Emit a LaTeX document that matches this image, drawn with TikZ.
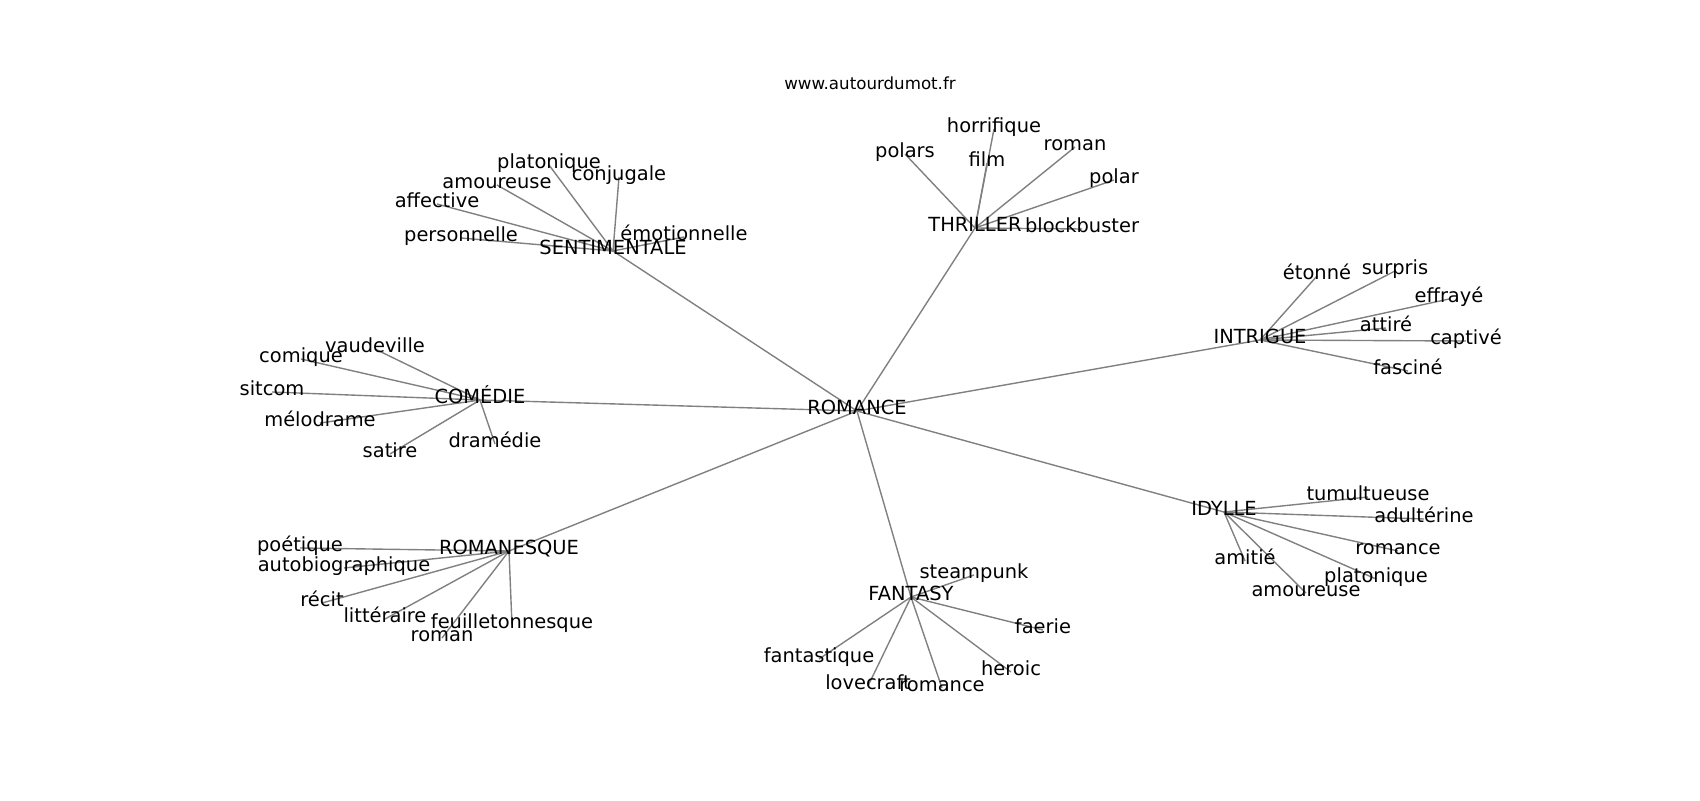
\documentclass[tikz,border=0pt]{standalone}
\usepackage{fontspec}
\setmainfont{DejaVu Sans}
\begin{document}
\begin{tikzpicture}[x=0.72pt,y=-0.72pt,
  lbl/.style={inner sep=0pt,text height=0.76em,text depth=0.24em,font=\fontsize{14pt}{16pt}\selectfont,anchor=center},
  ttl/.style={inner sep=0pt,text height=0.76em,text depth=0.24em,font=\fontsize{12pt}{14pt}\selectfont},
  edge/.style={draw=gray,line width=1pt}]
\path[use as bounding box,fill=white] (0,-4) rectangle (1700,796);
% hubs
\coordinate (R) at (857,407);
\coordinate (S) at (613,247);
\coordinate (Th) at (975,224);
\coordinate (In) at (1260,336);
\coordinate (Co) at (480,396);
\coordinate (Id) at (1224,508);
\coordinate (Rq) at (509,547);
\coordinate (Fa) at (911,593);
% leaves
\coordinate (s1) at (549,161);
\coordinate (s2) at (619,173);
\coordinate (s3) at (497,181);
\coordinate (s4) at (437,200);
\coordinate (s5) at (461,234);
\coordinate (s6) at (684,233);
\coordinate (t1) at (994,125);
\coordinate (t2) at (905,150);
\coordinate (t3) at (987,159);
\coordinate (t4) at (1075,143);
\coordinate (t5) at (1114,176);
\coordinate (t6) at (1082,225);
\coordinate (i1) at (1317,272);
\coordinate (i2) at (1395,267);
\coordinate (i3) at (1449,295);
\coordinate (i4) at (1386,324);
\coordinate (i5) at (1466,337);
\coordinate (i6) at (1408,367);
\coordinate (c1) at (375,345);
\coordinate (c2) at (301,355);
\coordinate (c3) at (272,388);
\coordinate (c4) at (320,419);
\coordinate (c5) at (390,450);
\coordinate (c6) at (495,440);
\coordinate (r1) at (300,544);
\coordinate (r2) at (344,564);
\coordinate (r3) at (322,599);
\coordinate (r4) at (385,615);
\coordinate (r5) at (512,621);
\coordinate (r6) at (442,634);
\coordinate (f1) at (974,571);
\coordinate (f2) at (1043,626);
\coordinate (f3) at (819,655);
\coordinate (f4) at (868,682);
\coordinate (f5) at (942,684);
\coordinate (f6) at (1011,668);
\coordinate (d1) at (1368,493);
\coordinate (d2) at (1424,515);
\coordinate (d3) at (1398,547);
\coordinate (d4) at (1376,575);
\coordinate (d5) at (1306,589);
\coordinate (d6) at (1245,557);
% edges
\foreach \h in {S,Th,In,Co,Id,Rq,Fa} \draw[edge] (R) -- (\h);
\foreach \l in {s1,s2,s3,s4,s5,s6} \draw[edge] (S) -- (\l);
\foreach \l in {t1,t2,t3,t4,t5,t6} \draw[edge] (Th) -- (\l);
\foreach \l in {i1,i2,i3,i4,i5,i6} \draw[edge] (In) -- (\l);
\foreach \l in {c1,c2,c3,c4,c5,c6} \draw[edge] (Co) -- (\l);
\foreach \l in {r1,r2,r3,r4,r5,r6} \draw[edge] (Rq) -- (\l);
\foreach \l in {f1,f2,f3,f4,f5,f6} \draw[edge] (Fa) -- (\l);
\foreach \l in {d1,d2,d3,d4,d5,d6} \draw[edge] (Id) -- (\l);
% labels
\node[ttl] (title) at (870,82) {www.autourdumot.fr};
\node[lbl] (nR) at (R) {ROMANCE};
\node[lbl] (nS) at (S) {SENTIMENTALE};
\node[lbl] (nTh) at (Th) {THRILLER};
\node[lbl] (nIn) at (In) {INTRIGUE};
\node[lbl] (nCo) at (Co) {COMÉDIE};
\node[lbl] (nId) at (Id) {IDYLLE};
\node[lbl] (nRq) at (Rq) {ROMANESQUE};
\node[lbl] (nFa) at (Fa) {FANTASY};
\node[lbl] (ns1) at (s1) {platonique};
\node[lbl] (ns2) at (s2) {conjugale};
\node[lbl] (ns3) at (s3) {amoureuse};
\node[lbl] (ns4) at (s4) {affective};
\node[lbl] (ns5) at (s5) {personnelle};
\node[lbl] (ns6) at (s6) {émotionnelle};
\node[lbl] (nt1) at (t1) {horrifique};
\node[lbl] (nt2) at (t2) {polars};
\node[lbl] (nt3) at (t3) {film};
\node[lbl] (nt4) at (t4) {roman};
\node[lbl] (nt5) at (t5) {polar};
\node[lbl] (nt6) at (t6) {blockbuster};
\node[lbl] (ni1) at (i1) {étonné};
\node[lbl] (ni2) at (i2) {surpris};
\node[lbl] (ni3) at (i3) {effrayé};
\node[lbl] (ni4) at (i4) {attiré};
\node[lbl] (ni5) at (i5) {captivé};
\node[lbl] (ni6) at (i6) {fasciné};
\node[lbl] (nc1) at (c1) {vaudeville};
\node[lbl] (nc2) at (c2) {comique};
\node[lbl] (nc3) at (c3) {sitcom};
\node[lbl] (nc4) at (c4) {mélodrame};
\node[lbl] (nc5) at (c5) {satire};
\node[lbl] (nc6) at (c6) {dramédie};
\node[lbl] (nr1) at (r1) {poétique};
\node[lbl] (nr2) at (r2) {autobiographique};
\node[lbl] (nr3) at (r3) {récit};
\node[lbl] (nr4) at (r4) {littéraire};
\node[lbl] (nr5) at (r5) {feuilletonnesque};
\node[lbl] (nr6) at (r6) {roman};
\node[lbl] (nf1) at (f1) {steampunk};
\node[lbl] (nf2) at (f2) {faerie};
\node[lbl] (nf3) at (f3) {fantastique};
\node[lbl] (nf4) at (f4) {lovecraft};
\node[lbl] (nf5) at (f5) {romance};
\node[lbl] (nf6) at (f6) {heroic};
\node[lbl] (nd1) at (d1) {tumultueuse};
\node[lbl] (nd2) at (d2) {adultérine};
\node[lbl] (nd3) at (d3) {romance};
\node[lbl] (nd4) at (d4) {platonique};
\node[lbl] (nd5) at (d5) {amoureuse};
\node[lbl] (nd6) at (d6) {amitié};
\end{tikzpicture}
\end{document}
